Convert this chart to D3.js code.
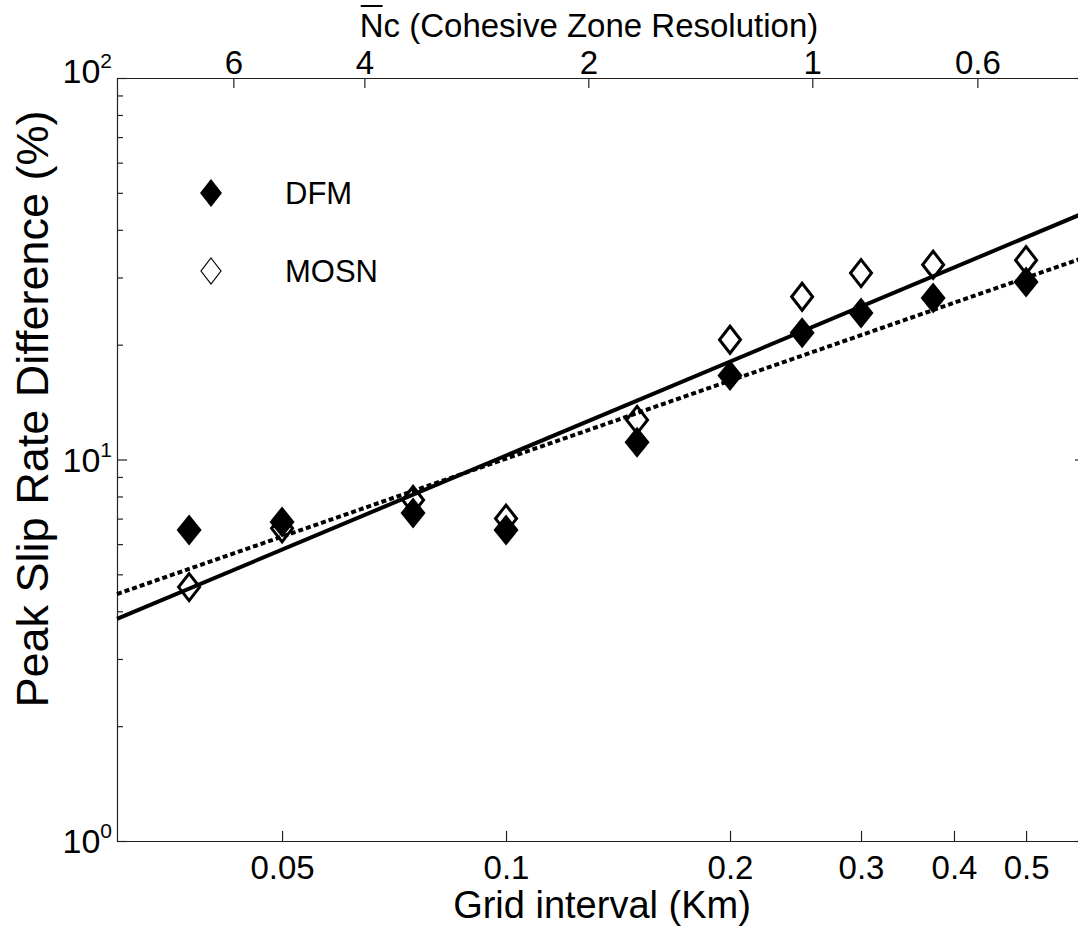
<!DOCTYPE html>
<html>
<head>
    <meta charset="utf-8">
    <title>Peak slip rate difference</title>
    <script src="https://d3js.org/d3.v7.min.js"></script>
    <style>
        body { margin: 0; background: #fff; }
        text { font-family: "Liberation Sans", Arial, Helvetica, sans-serif; fill: #000; }
    </style>
</head>
<body>
<div id="chart"></div>
<script type="text/javascript">
    let w = 1078;
    let h = 934;

    // grid interval (km) of each run
    let gridKm = [0.0375, 0.05, 0.075, 0.1, 0.15, 0.2, 0.25, 0.3, 0.375, 0.5];
    // peak slip rate difference (%)
    let dfm  = [6.53, 6.86, 7.24, 6.53, 11.1, 16.6, 21.5, 24.2, 26.5, 29.2];
    let mosn = [4.63, 6.6, 7.83, 7.0, 12.7, 20.6, 26.7, 30.8, 32.4, 33.3];

    // fitted trend lines, as [grid interval, difference] end points
    let solidFit  = [[0.03, 3.82], [0.6, 44.4]];
    let dashedFit = [[0.03, 4.44], [0.6, 33.9]];

    // tick labels
    let bottomTicks = [0.05, 0.1, 0.2, 0.3, 0.4, 0.5];
    let topTicks = [6, 4, 2, 1, 0.6];
    let yMajor = [1, 10, 100];
    let ncFactor = 0.258; // Nc = ncFactor / grid interval

    let pLeft = 117, pRight = 1085, pTop = 78, pBottom = 841;

    let xScale = d3.scaleLog().domain([0.03, 0.6]).range([pLeft, pRight]);
    let xTop = d3.scaleLog().domain([ncFactor / 0.03, ncFactor / 0.6]).range([pLeft, pRight]);
    let yScale = d3.scaleLog().domain([1, 100]).range([pBottom, pTop]);

    let svg = d3.select("#chart")
                .append("svg")
                .attr("width", w)
                .attr("height", h);

    svg.append("rect").attr("width", w).attr("height", h).attr("fill", "#fff");

    // axes
    let fmt = d3.format("");
    let xAxis = d3.axisBottom(xScale).tickValues(bottomTicks)
                  .tickSizeInner(-10).tickSizeOuter(0).tickPadding(14.5)
                  .tickFormat(d => fmt(d));
    svg.append("g").attr("transform", "translate(0," + pBottom + ")").call(xAxis);

    let xAxisTop = d3.axisTop(xTop).tickValues(topTicks)
                     .tickSizeInner(-10).tickSizeOuter(0).tickPadding(4)
                     .tickFormat(d => fmt(d));
    svg.append("g").attr("transform", "translate(0," + pTop + ")").call(xAxisTop);

    let yAxis = d3.axisLeft(yScale).tickValues(yMajor)
                  .tickSizeInner(-10).tickSizeOuter(0).tickFormat("");
    svg.append("g").attr("transform", "translate(" + pLeft + ",0)").call(yAxis);

    let yAxisR = d3.axisRight(yScale).tickValues(yMajor)
                   .tickSizeInner(-10).tickSizeOuter(0).tickFormat("");
    svg.append("g").attr("transform", "translate(" + pRight + ",0)").call(yAxisR);

    let minor = yScale.ticks().filter(d => yMajor.indexOf(d) < 0);
    svg.append("g").attr("transform", "translate(" + pLeft + ",0)")
       .call(d3.axisLeft(yScale).tickValues(minor).tickSizeInner(-6).tickSizeOuter(0).tickFormat(""))
       .select(".domain").remove();
    svg.append("g").attr("transform", "translate(" + pRight + ",0)")
       .call(d3.axisRight(yScale).tickValues(minor).tickSizeInner(-6).tickSizeOuter(0).tickFormat(""))
       .select(".domain").remove();

    svg.selectAll(".domain").attr("stroke", "#222").attr("stroke-width", 1.2);
    svg.selectAll(".tick line").attr("stroke", "#222").attr("stroke-width", 1.2);
    svg.selectAll(".tick text").attr("font-size", "33px").attr("font-family", null).attr("fill", "#000");

    // y tick labels 10^n (the top one sits a bit higher, as in the original)
    let yl = svg.append("g").selectAll("text")
        .data(yMajor)
        .enter()
        .append("text")
        .attr("x", pLeft - 5)
        .attr("y", d => yScale(d) + (d == 100 ? 5 : 12))
        .attr("text-anchor", "end")
        .attr("font-size", "34px");
    yl.append("tspan").text("10");
    yl.append("tspan").attr("font-size", "21px").attr("dy", "-15")
      .text(d => Math.round(Math.log10(d)));

    // trend lines
    let line = d3.line()
                 .x(function(d) { return xScale(d[0]); })
                 .y(function(d) { return yScale(d[1]); });

    let diamond = function(hw, hh) {
        return "M0," + (-hh) + "L" + hw + ",0L0," + hh + "L" + (-hw) + ",0Z";
    };

    // markers
    svg.append("g").selectAll("path")
        .data(gridKm)
        .enter()
        .append("path")
        .attr("d", diamond(12.5, 15.5))
        .attr("transform", function(d, i) {
            return "translate(" + xScale(d) + "," + yScale(dfm[i]) + ")";
        })
        .attr("fill", "#000");

    svg.append("g").selectAll("path")
        .data(gridKm)
        .enter()
        .append("path")
        .attr("d", diamond(10.5, 13.5))
        .attr("transform", function(d, i) {
            return "translate(" + xScale(d) + "," + yScale(mosn[i]) + ")";
        })
        .attr("fill", "none")
        .attr("stroke", "#000")
        .attr("stroke-width", 3);

    svg.append("path")
        .datum(solidFit)
        .attr("d", line)
        .attr("fill", "none")
        .attr("stroke", "#000")
        .attr("stroke-width", 4);

    svg.append("path")
        .datum(dashedFit)
        .attr("d", line)
        .attr("fill", "none")
        .attr("stroke", "#000")
        .attr("stroke-width", 4)
        .attr("stroke-dasharray", "5,3");

    // legend
    let legendNames = ["DFM", "MOSN"];
    let lg = svg.append("g").selectAll("g")
        .data(legendNames)
        .enter()
        .append("g")
        .attr("transform", function(d, i) { return "translate(211," + (193 + i * 78) + ")"; });
    lg.append("path")
        .attr("d", function(d, i) { return i == 0 ? diamond(11, 14) : diamond(10, 13); })
        .attr("fill", function(d, i) { return i == 0 ? "#000" : "#fff"; })
        .attr("stroke", "#000")
        .attr("stroke-width", function(d, i) { return i == 0 ? 0 : 1.2; });
    lg.append("text")
        .attr("x", 74)
        .attr("y", 11)
        .attr("font-size", "31px")
        .text(d => d);

    // axis titles
    svg.append("text")
        .attr("x", 602)
        .attr("y", 918)
        .attr("text-anchor", "middle")
        .attr("font-size", "38px")
        .text("Grid interval (Km)");

    svg.append("text")
        .attr("transform", "translate(48,409) rotate(-90)")
        .attr("text-anchor", "middle")
        .attr("font-size", "45px")
        .text("Peak Slip Rate Difference (%)");

    let topTitle = svg.append("text")
        .attr("x", 589)
        .attr("y", 37)
        .attr("text-anchor", "middle")
        .attr("font-size", "33px")
        .text("Nc (Cohesive Zone Resolution)");
    let nBox = topTitle.node().getExtentOfChar(0);
    svg.append("line")
        .attr("x1", nBox.x + 1)
        .attr("x2", nBox.x + nBox.width - 1)
        .attr("y1", 6)
        .attr("y2", 6)
        .attr("stroke", "#000")
        .attr("stroke-width", 2);
</script>
</body>
</html>
